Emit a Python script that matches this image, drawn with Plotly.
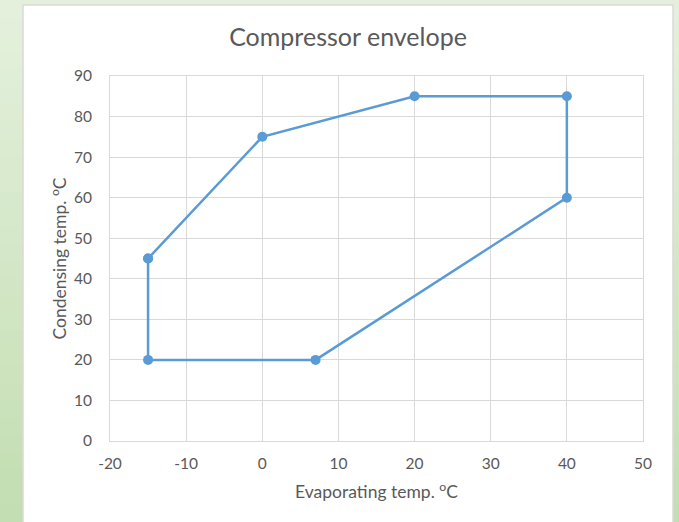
import plotly.graph_objects as go

evap = [-15, 0, 20, 40, 40, 7, -15, -15]
cond = [45, 75, 85, 85, 60, 20, 20, 45]
x_ticks = [-20, -10, 0, 10, 20, 30, 40, 50]
y_ticks = [0, 10, 20, 30, 40, 50, 60, 70, 80, 90]

W, H = 679, 522
L, R, T, B = 110, 36, 76, 81
pw, ph = W - L - R, H - T - B

def px(x):
    return (x - L) / pw

def py(y):
    return (H - B - y) / ph

FONT = "Lato, Carlito, sans-serif"

fig = go.Figure()
fig.add_trace(go.Scatter(
    x=evap, y=cond, mode="lines+markers",
    line=dict(color="#5b9bd5", width=2.5),
    marker=dict(color="#5b9bd5", size=10),
    hoverinfo="x+y", showlegend=False,
))

shapes = []
n = 30
top = (0xe4, 0xf0, 0xdc)
bot = (0xc3, 0xde, 0xb2)
for i in range(n):
    f = i / (n - 1)
    c = tuple(int(round(top[k] + (bot[k] - top[k]) * f)) for k in range(3))
    y0 = i * H / n
    y1 = (i + 1) * H / n + 1
    shapes.append(dict(type="rect", xref="paper", yref="paper",
                       x0=px(0), x1=px(W), y0=py(y1), y1=py(y0),
                       fillcolor="rgb(%d,%d,%d)" % c, line=dict(width=0), layer="below"))
shapes.append(dict(type="rect", xref="paper", yref="paper",
                   x0=px(23), x1=px(673), y0=py(530), y1=py(5),
                   fillcolor="white", line=dict(color="#d9d9d9", width=1.5), layer="below"))

axis_common = dict(showgrid=True, gridcolor="#d9d9d9", gridwidth=1,
                   showline=True, linecolor="#d9d9d9", linewidth=1, mirror=True,
                   zeroline=False, ticks="",
                   tickfont=dict(family=FONT, size=15.5, color="#595959"))

fig.update_layout(
    width=W, height=H,
    margin=dict(l=L, r=R, t=T, b=B),
    paper_bgcolor="#d4e7c7",
    plot_bgcolor="rgba(0,0,0,0)",
    shapes=shapes,
    title=dict(text="Compressor envelope", x=px(348), xref="paper", xanchor="center",
               y=1 - 37 / H, yanchor="middle",
               font=dict(family=FONT, size=25, color="#595959")),
    xaxis=dict(range=[-20, 50], tickvals=x_ticks, ticktext=[str(v) for v in x_ticks],
               ticklabelstandoff=8,
               title=dict(text="Evaporating temp. <sup>o</sup>C", standoff=15,
                          font=dict(family=FONT, size=17.5, color="#595959")),
               **axis_common),
    yaxis=dict(range=[0, 90], tickvals=y_ticks, ticktext=[str(v) for v in y_ticks],
               ticklabelstandoff=14,
               title=dict(text="Condensing temp. <sup>o</sup>C", standoff=2,
                          font=dict(family=FONT, size=17.5, color="#595959")),
               **axis_common),
)

fig.write_html("out.html", config={"displayModeBar": False},
               post_script="document.body.style.margin='0';document.body.style.padding='0';")
